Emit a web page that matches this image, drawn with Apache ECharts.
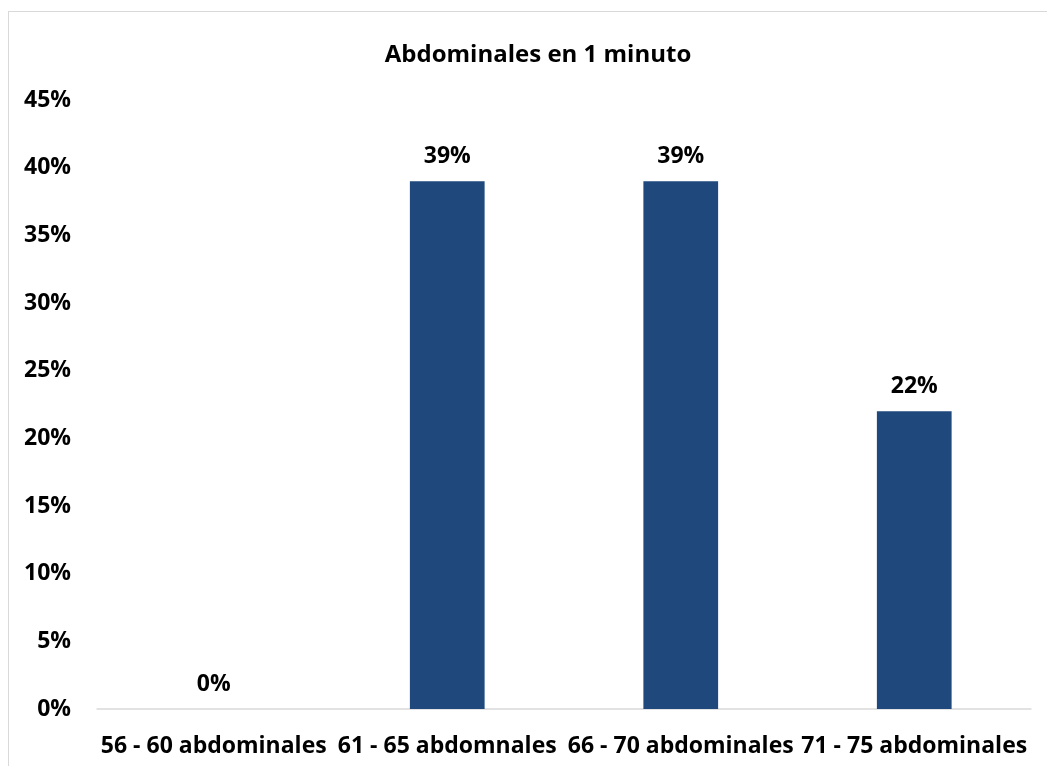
<!DOCTYPE html>
<html>
<head>
<meta charset="utf-8">
<script src="https://cdn.jsdelivr.net/npm/echarts@6/dist/echarts.min.js"></script>
<style>
  html, body { margin: 0; padding: 0; background: #ffffff; }
  #frame { position: absolute; left: 8px; top: 11px; width: 1060px; height: 780px;
           border: 1px solid #d9d9d9; box-sizing: border-box; }
  #chart { position: absolute; left: 0; top: 0; width: 1047px; height: 766px; }
</style>
</head>
<body>
<div id="frame"></div>
<div id="chart"></div>
<script>
// Distribution of sit-ups done in one minute
const categories = ['56 - 60 abdominales', '61 - 65 abdomnales', '66 - 70 abdominales', '71 - 75 abdominales'];
const percentages = [0, 39, 39, 22];
const yTicks = [0, 5, 10, 15, 20, 25, 30, 35, 40, 45];

const FONT = '"Open Sans", "Noto Sans", sans-serif';
const chart = echarts.init(document.getElementById('chart'), null, { renderer: 'canvas' });

chart.setOption({
  animation: false,
  backgroundColor: 'transparent',
  title: {
    text: 'Abdominales en 1 minuto',
    top: 38,
    left: 533,
    textAlign: 'center',
    textStyle: { fontFamily: FONT, fontWeight: 'bold', fontSize: 24, color: '#000000' }
  },
  grid: { left: 97, right: 16, top: 100, bottom: 57, containLabel: false },
  xAxis: {
    type: 'category',
    data: categories,
    axisLine: { show: true, lineStyle: { color: '#d9d9d9', width: 1.5 } },
    axisTick: { show: false },
    axisLabel: {
      interval: 0,
      margin: 26,
      fontFamily: FONT, fontWeight: 'bold', fontSize: 23, color: '#000000'
    }
  },
  yAxis: {
    type: 'value',
    min: yTicks[0],
    max: yTicks[yTicks.length - 1],
    interval: 5,
    splitLine: { show: false },
    axisLine: { show: false },
    axisTick: { show: false },
    axisLabel: {
      margin: 26,
      formatter: v => v + '%',
      fontFamily: FONT, fontWeight: 'bold', fontSize: 23, color: '#000000'
    }
  },
  series: [{
    type: 'bar',
    data: percentages,
    barWidth: '32%',
    itemStyle: { color: '#1f497d' },
    label: {
      show: true,
      position: 'top',
      distance: 13,
      formatter: p => p.value + '%',
      fontFamily: FONT, fontWeight: 'bold', fontSize: 23, color: '#000000'
    }
  }]
});
</script>
</body>
</html>
